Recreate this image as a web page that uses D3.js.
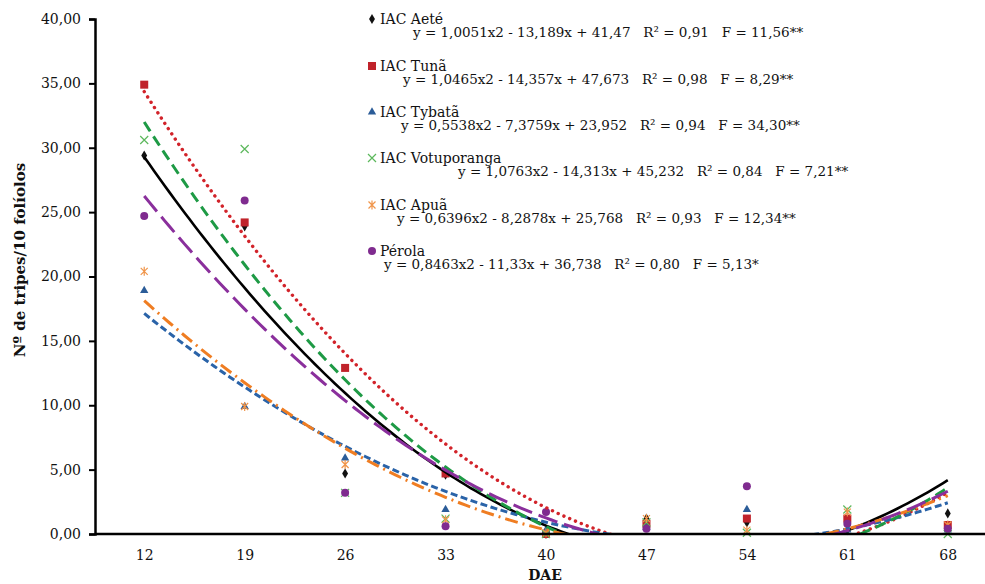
<!DOCTYPE html>
<html>
<head>
<meta charset="utf-8">
<script src="https://cdn.jsdelivr.net/npm/d3@7"></script>
<style>
  body { margin: 0; background: #fff; }
  text { font-family: "DejaVu Serif", "Liberation Serif", serif; fill: #111; }
</style>
</head>
<body>
<div id="wrapper"></div>
<script>
const categories = ["12", "19", "26", "33", "40", "47", "54", "61", "68"]
const yTicks = [0, 5, 10, 15, 20, 25, 30, 35, 40]

const seriesNames = ["IAC Aeté", "IAC Tunã", "IAC Tybatã", "IAC Votuporanga", "IAC Apuã", "Pérola"]
const aete        = [29.4, 23.9, 4.7, 4.6, 0.0, 1.2, 0.9, 0.3, 1.6]
const tuna        = [34.9, 24.2, 12.9, 4.7, 0.0, 0.8, 1.2, 1.2, 0.7]
const tybata      = [18.9, 9.9, 5.9, 1.9, 0.3, 0.5, 1.9, 0.3, 0.3]
const votuporanga = [30.6, 29.9, 3.2, 1.2, 0.0, 0.9, 0.1, 1.9, 0.0]
const apua        = [20.4, 9.9, 5.4, 1.1, 0.1, 1.2, 0.3, 1.7, 0.7]
const perola      = [24.7, 25.9, 3.2, 0.6, 1.7, 0.4, 3.7, 0.8, 0.4]

// trendline coefficients a*x^2 + b*x + c, x = 1..9
const coefA = [1.0051, 1.0465, 0.5538, 1.0763, 0.6396, 0.8463]
const coefB = [-13.189, -14.357, -7.3759, -14.313, -8.2878, -11.33]
const coefC = [41.47, 47.673, 23.952, 45.232, 25.768, 36.738]
const equations = [
  "y = 1,0051x2 - 13,189x + 41,47   R² = 0,91   F = 11,56**",
  "y = 1,0465x2 - 14,357x + 47,673   R² = 0,98   F = 8,29**",
  "y = 0,5538x2 - 7,3759x + 23,952   R² = 0,94   F = 34,30**",
  "y = 1,0763x2 - 14,313x + 45,232   R² = 0,84   F = 7,21**",
  "y = 0,6396x2 - 8,2878x + 25,768   R² = 0,93   F = 12,34**",
  "y = 0,8463x2 - 11,33x + 36,738   R² = 0,80   F = 5,13*"
]

const seriesValues = [aete, tuna, tybata, votuporanga, apua, perola]
const markerColors = ["#111111", "#c0232b", "#2b5c98", "#5cb85c", "#f0954a", "#7f2b8f"]
const lineColors   = ["#000000", "#d2232a", "#2a63a8", "#1e9a45", "#ef7d22", "#8a2f9c"]
const dashes = [null, "0.1 6.2", "7 3.5", "11 6", "13 5 2 5", "20 7"]
const lineWidths = [2.6, 3.4, 3, 3, 3, 3]
const symbolTypes = ["diamond", "square", "triangle", "cross", "asterisk", "circle"]

const width = 985, height = 584
const margin = { top: 19, left: 95, bottom: 50 }
const plotBottom = height - margin.bottom

const svg = d3.select("#wrapper").append("svg")
  .attr("width", width).attr("height", height)

const x = d3.scalePoint().domain(categories).range([94, 998]).padding(0.5)
const xIdx = d3.scaleLinear().domain([1, categories.length])
  .range([x(categories[0]), x(categories[categories.length - 1])])
const y = d3.scaleLinear().domain([0, 40]).range([plotBottom, margin.top])

svg.append("clipPath").attr("id", "plot")
  .append("rect").attr("x", margin.left).attr("y", margin.top - 2)
  .attr("width", width - margin.left).attr("height", plotBottom - margin.top + 2)

// markers
function drawMarker(g, type, color) {
  if (type === "diamond") {
    g.append("path").attr("d", d3.symbol(d3.symbolDiamond, 30)()).attr("fill", color)
  } else if (type === "square") {
    g.append("rect").attr("x", -4).attr("y", -4).attr("width", 8).attr("height", 8).attr("fill", color)
  } else if (type === "triangle") {
    g.append("path").attr("d", d3.symbol(d3.symbolTriangle, 30)()).attr("fill", color)
  } else if (type === "cross") {
    g.append("path").attr("d", "M-4,-4L4,4M-4,4L4,-4").attr("stroke", color).attr("stroke-width", 1.2)
  } else if (type === "asterisk") {
    g.append("path").attr("d", "M-3.5,-3.5L3.5,3.5M-3.5,3.5L3.5,-3.5M0,-4.5L0,4.5")
      .attr("stroke", color).attr("stroke-width", 1.2)
  } else {
    g.append("circle").attr("r", 4).attr("fill", color)
  }
}

const points = svg.append("g")
seriesValues.forEach((vals, s) => {
  vals.forEach((v, i) => {
    const g = points.append("g").attr("transform", `translate(${x(categories[i])},${y(v)})`)
    drawMarker(g, symbolTypes[s], markerColors[s])
  })
})

// trendlines
const trend = svg.append("g").attr("clip-path", "url(#plot)")
const xs = d3.range(1, categories.length + 0.001, 0.05)
seriesValues.forEach((vals, s) => {
  const f = t => coefA[s] * t * t + coefB[s] * t + coefC[s]
  const line = d3.line().x(t => xIdx(t)).y(t => y(f(t)))
  trend.append("path")
    .attr("d", line(xs))
    .attr("fill", "none")
    .attr("stroke", lineColors[s])
    .attr("stroke-width", lineWidths[s])
    .attr("stroke-linecap", s === 1 ? "round" : "butt")
    .attr("stroke-dasharray", dashes[s])
})

// axes
const yAxis = svg.append("g").attr("transform", `translate(${margin.left},0)`)
  .call(d3.axisLeft(y).tickValues(yTicks).tickSize(6).tickPadding(8)
    .tickFormat(d => d3.format(".2f")(d).replace(".", ",")))
yAxis.select(".domain").attr("stroke", "#000").attr("stroke-width", 2.5)
yAxis.selectAll(".tick line").attr("stroke", "#000").attr("stroke-width", 2)
yAxis.selectAll("text").style("font-size", "14px")

const xAxis = svg.append("g").attr("transform", `translate(0,${plotBottom})`)
  .call(d3.axisBottom(x).tickSize(0).tickPadding(16))
xAxis.select(".domain").attr("d", `M${margin.left},0H${width}`)
  .attr("stroke", "#000").attr("stroke-width", 2.5)
xAxis.selectAll("text").style("font-size", "14px")

svg.append("text")
  .attr("transform", `translate(25,260) rotate(-90)`)
  .attr("text-anchor", "middle")
  .style("font-size", "15px").style("font-weight", "bold")
  .text("Nº de tripes/10 folíolos")

svg.append("text")
  .attr("x", 545).attr("y", 580).attr("text-anchor", "middle")
  .style("font-size", "14px").style("font-weight", "bold")
  .text("DAE")

// legend with equations
const legendY = [19, 66, 112, 158, 205, 251]
const eqX = [413, 403, 401, 458, 397, 384]
seriesNames.forEach((name, s) => {
  const g = svg.append("g").attr("transform", `translate(372,${legendY[s]})`)
  drawMarker(g, symbolTypes[s], markerColors[s])
  g.append("text").attr("x", 8).attr("y", 5).style("font-size", "14px").text(name)
  svg.append("text").attr("x", eqX[s]).attr("y", legendY[s] + 17.5)
    .style("font-size", "13.5px").attr("xml:space", "preserve")
    .style("white-space", "pre")
    .text(equations[s])
})
</script>
</body>
</html>
